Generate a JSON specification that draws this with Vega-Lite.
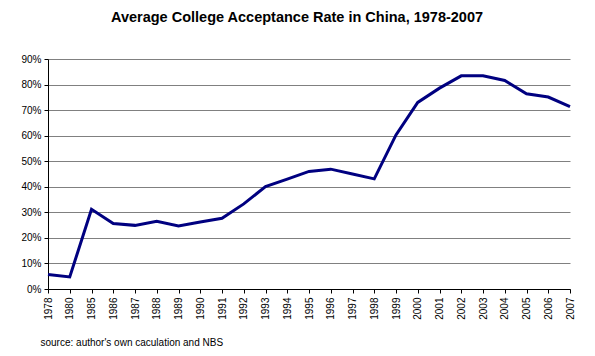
{
  "$schema": "https://vega.github.io/schema/vega-lite/v6.json",
  "width": 522,
  "height": 230,
  "autosize": {"type": "none"},
  "padding": {"left": 48, "top": 59, "right": 25, "bottom": 67},
  "background": "white",
  "title": {
    "text": "Average College Acceptance Rate in China, 1978-2007",
    "font": "Liberation Sans",
    "fontSize": 14.5,
    "fontWeight": "bold",
    "color": "black",
    "anchor": "middle",
    "dx": -12,
    "offset": 29
  },
  "data": {
    "values": [
      {"year": "1978", "rate": 0.057},
      {"year": "1980", "rate": 0.047},
      {"year": "1985", "rate": 0.312},
      {"year": "1986", "rate": 0.256},
      {"year": "1987", "rate": 0.249},
      {"year": "1988", "rate": 0.265},
      {"year": "1989", "rate": 0.247},
      {"year": "1990", "rate": 0.262},
      {"year": "1991", "rate": 0.277},
      {"year": "1992", "rate": 0.333},
      {"year": "1993", "rate": 0.401},
      {"year": "1994", "rate": 0.43},
      {"year": "1995", "rate": 0.46},
      {"year": "1996", "rate": 0.469},
      {"year": "1997", "rate": 0.45},
      {"year": "1998", "rate": 0.431},
      {"year": "1999", "rate": 0.603},
      {"year": "2000", "rate": 0.73},
      {"year": "2001", "rate": 0.786},
      {"year": "2002", "rate": 0.834},
      {"year": "2003", "rate": 0.834},
      {"year": "2004", "rate": 0.816},
      {"year": "2005", "rate": 0.764},
      {"year": "2006", "rate": 0.751},
      {"year": "2007", "rate": 0.714}
    ]
  },
  "config": {
    "view": {"stroke": null},
    "axis": {
      "labelFont": "Liberation Sans",
      "labelFontSize": 10,
      "labelColor": "black",
      "domainColor": "black",
      "tickColor": "black",
      "titleFont": "Liberation Sans",
      "labelOverlap": false
    }
  },
  "mark": {"type": "line", "color": "#000080", "strokeWidth": 3, "strokeJoin": "miter"},
  "encoding": {
    "x": {
      "field": "year",
      "type": "ordinal",
      "sort": null,
      "scale": {"type": "point", "padding": 0},
      "axis": {
        "labelAngle": -90,
        "labelPadding": 4,
        "tickSize": 4,
        "grid": false,
        "title": "source: author's own caculation and NBS",
        "titleFontSize": 10,
        "titleFontWeight": "normal",
        "titleColor": "black",
        "titleAnchor": "start",
        "titleAlign": "left",
        "titleX": -8,
        "titleY": 56,
        "titleBaseline": "alphabetic"
      }
    },
    "y": {
      "field": "rate",
      "type": "quantitative",
      "scale": {"domain": [0, 0.9], "nice": false},
      "axis": {
        "format": ".0%",
        "values": [0, 0.1, 0.2, 0.3, 0.4, 0.5, 0.6, 0.7, 0.8, 0.9],
        "labelOverlap": false,
        "tickSize": 4,
        "labelPadding": 3,
        "grid": true,
        "gridColor": "#808080",
        "gridWidth": 1,
        "title": null
      }
    }
  }
}
